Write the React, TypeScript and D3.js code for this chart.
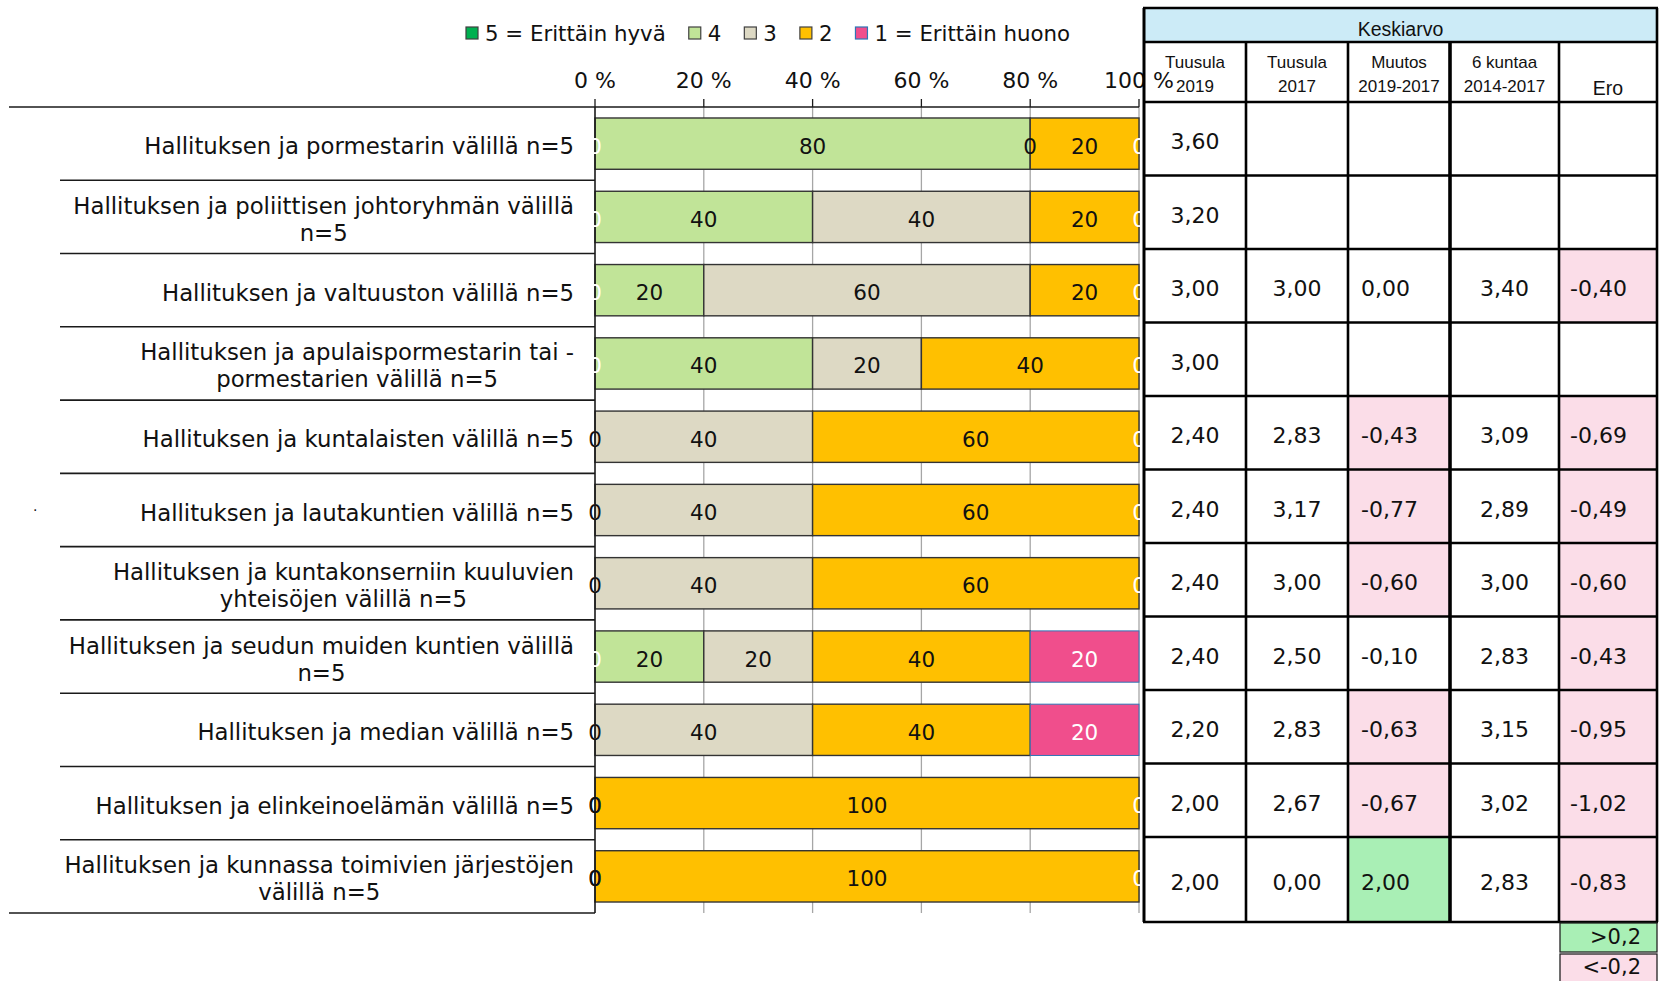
import React, { useEffect, useRef } from 'react';
import * as d3 from 'd3';

// ---------- DATA ----------
const categoryLines: string[][] = [
  ['Hallituksen ja pormestarin välillä n=5'],
  ['Hallituksen ja poliittisen johtoryhmän välillä', 'n=5'],
  ['Hallituksen ja valtuuston välillä n=5'],
  ['Hallituksen ja apulaispormestarin tai -', 'pormestarien välillä n=5'],
  ['Hallituksen ja kuntalaisten välillä n=5'],
  ['Hallituksen ja lautakuntien välillä n=5'],
  ['Hallituksen ja kuntakonserniin kuuluvien', 'yhteisöjen välillä n=5'],
  ['Hallituksen ja seudun muiden kuntien välillä', 'n=5'],
  ['Hallituksen ja median välillä n=5'],
  ['Hallituksen ja elinkeinoelämän välillä n=5'],
  ['Hallituksen ja kunnassa toimivien järjestöjen', 'välillä n=5'],
];
const seriesNames = ['5 = Erittäin hyvä', '4', '3', '2', '1 = Erittäin huono'];
const s5 = [0, 0, 0, 0, 0, 0, 0, 0, 0, 0, 0];
const s4 = [80, 40, 20, 40, 0, 0, 0, 20, 0, 0, 0];
const s3 = [0, 40, 60, 20, 40, 40, 40, 20, 40, 0, 0];
const s2 = [20, 20, 20, 40, 60, 60, 60, 40, 40, 100, 100];
const s1 = [0, 0, 0, 0, 0, 0, 0, 20, 20, 0, 0];
const xTicks = [0, 20, 40, 60, 80, 100];

const tableTitle = 'Keskiarvo';
const tableHeaders: string[][] = [
  ['Tuusula', '2019'],
  ['Tuusula', '2017'],
  ['Muutos', '2019-2017'],
  ['6 kuntaa', '2014-2017'],
  ['Ero'],
];
const tuusula2019 = [3.6, 3.2, 3.0, 3.0, 2.4, 2.4, 2.4, 2.4, 2.2, 2.0, 2.0];
const tuusula2017 = [null, null, 3.0, null, 2.83, 3.17, 3.0, 2.5, 2.83, 2.67, 0.0];
const muutos = [null, null, 0.0, null, -0.43, -0.77, -0.6, -0.1, -0.63, -0.67, 2.0];
const kuntaa6 = [null, null, 3.4, null, 3.09, 2.89, 3.0, 2.83, 3.15, 3.02, 2.83];
const ero = [null, null, -0.4, null, -0.69, -0.49, -0.6, -0.43, -0.95, -1.02, -0.83];
const legendHigh = '>0,2';
const legendLow = '<-0,2';

// ---------- STYLE ----------
const colors = ['#00B050', '#C1E498', '#DDD9C4', '#FFC000', '#F04E8C'];
const labelColors = ['#ffffff', '#111111', '#111111', '#111111', '#ffffff'];
const FONT = '"DejaVu Sans", sans-serif';
const HFONT = '"Liberation Sans", Arial, sans-serif';
const PINK = '#FBDDE8';
const GREEN = '#A9EFB5';
const BLUE = '#CCEBF7';
const DY = 2.5;

export default function App() {
  const ref = useRef<SVGSVGElement | null>(null);

  useEffect(() => {
    const svg = d3.select(ref.current);
    svg.selectAll('*').remove();

    const n = categoryLines.length;
    const x = d3.scaleLinear().domain([0, 100]).range([595, 1139]);
    const y = d3
      .scaleBand<number>()
      .domain(d3.range(n))
      .range([107, 913])
      .paddingInner(0.3)
      .paddingOuter(0.15);
    const step = y.step();

    const rows = d3.range(n).map((i) => ({ s5: s5[i], s4: s4[i], s3: s3[i], s2: s2[i], s1: s1[i] }));
    const keys = ['s5', 's4', 's3', 's2', 's1'];
    const stacked = d3.stack<any>().keys(keys)(rows);

    const g = svg.append('g');

    // gridlines
    g.selectAll('line.grid')
      .data(xTicks.slice(1))
      .join('line')
      .attr('x1', (d) => x(d))
      .attr('x2', (d) => x(d))
      .attr('y1', 107)
      .attr('y2', 913)
      .attr('stroke', '#a6a6a6')
      .attr('stroke-width', 1.3);

    // category separators
    const seps = d3.range(n + 1).map((i) => 107 + i * step);
    g.selectAll('line.sep')
      .data(seps)
      .join('line')
      .attr('x1', (d, i) => (i === 0 || i === n ? 9 : 60))
      .attr('x2', 595)
      .attr('y1', (d) => d)
      .attr('y2', (d) => d)
      .attr('stroke', '#1a1a1a')
      .attr('stroke-width', 1.6);

    // axis top line and ticks
    g.append('line')
      .attr('x1', 595)
      .attr('x2', x(100))
      .attr('y1', 107)
      .attr('y2', 107)
      .attr('stroke', '#1a1a1a')
      .attr('stroke-width', 1.6);
    g.selectAll('line.tick')
      .data(xTicks)
      .join('line')
      .attr('x1', (d) => x(d))
      .attr('x2', (d) => x(d))
      .attr('y1', 99)
      .attr('y2', 107)
      .attr('stroke', '#1a1a1a')
      .attr('stroke-width', 1.3);
    g.selectAll('text.tick')
      .data(xTicks)
      .join('text')
      .attr('x', (d) => x(d))
      .attr('y', 80)
      .attr('text-anchor', 'middle')
      .attr('dominant-baseline', 'central')
      .attr('font-family', FONT)
      .attr('font-size', 22)
      .attr('fill', '#111')
      .text((d) => `${d} %`);

    // bars
    stacked.forEach((layer, si) => {
      g.append('g')
        .selectAll('rect')
        .data(layer)
        .join('rect')
        .attr('x', (d: any) => x(d[0]))
        .attr('width', (d: any) => x(d[1]) - x(d[0]))
        .attr('y', (d: any, i: number) => y(i) as number)
        .attr('height', y.bandwidth())
        .attr('fill', colors[si])
        .attr('stroke', si === 4 ? '#2E75B6' : '#333333')
        .attr('stroke-width', si === 4 ? 1 : 1.4)
        .attr('display', (d: any) => (d[1] - d[0] > 0 ? null : 'none'));
    });

    // left axis line
    g.append('line')
      .attr('x1', 595)
      .attr('x2', 595)
      .attr('y1', 107)
      .attr('y2', 913)
      .attr('stroke', '#1a1a1a')
      .attr('stroke-width', 1.6);

    // bar labels
    stacked.forEach((layer, si) => {
      g.append('g')
        .selectAll('text')
        .data(layer)
        .join('text')
        .attr('x', (d: any) => x((d[0] + d[1]) / 2))
        .attr('y', (d: any, i: number) => (y(i) as number) + y.bandwidth() / 2 + DY)
        .attr('text-anchor', 'middle')
        .attr('dominant-baseline', 'central')
        .attr('font-family', FONT)
        .attr('font-size', 21.5)
        .attr('fill', labelColors[si])
        .text((d: any) => String(d[1] - d[0]));
    });

    // category labels
    const LABEL_RIGHT = 574;
    const LINE_H = 27;
    categoryLines.forEach((lines, i) => {
      const cy = (y(i) as number) + y.bandwidth() / 2 + DY;
      const tg = g.append('g');
      const texts = lines.map((ln, li) =>
        tg
          .append('text')
          .attr('y', cy + (li - (lines.length - 1) / 2) * LINE_H)
          .attr('text-anchor', 'middle')
          .attr('dominant-baseline', 'central')
          .attr('font-family', FONT)
          .attr('font-size', 22.8)
          .attr('fill', '#111')
          .text(ln)
      );
      const maxW = d3.max(texts, (t) => (t.node() as SVGTextElement).getComputedTextLength()) || 0;
      texts.forEach((t) => t.attr('x', LABEL_RIGHT - maxW / 2));
    });

    // stray dot
    g.append('text')
      .attr('x', 33)
      .attr('y', 511)
      .attr('font-family', FONT)
      .attr('font-size', 14)
      .attr('fill', '#111')
      .text('.');

    // legend
    let lx = 466;
    const ly = 33;
    seriesNames.forEach((name, si) => {
      g.append('rect')
        .attr('x', lx)
        .attr('y', ly - 6)
        .attr('width', 12)
        .attr('height', 12)
        .attr('fill', colors[si])
        .attr('stroke', si === 4 ? '#2E75B6' : '#404040')
        .attr('stroke-width', 1.2);
      const t = g
        .append('text')
        .attr('x', lx + 19)
        .attr('y', ly)
        .attr('dominant-baseline', 'central')
        .attr('font-family', FONT)
        .attr('font-size', 21.3)
        .attr('fill', '#111')
        .text(name);
      const w = (t.node() as SVGTextElement).getComputedTextLength();
      lx = lx + 19 + w + 23;
    });

    // ---------- TABLE ----------
    const colEdges = [1144, 1246, 1348, 1450, 1559, 1657];
    const rowEdges = d3.range(n).map((i) => 102 + i * 73.5).concat([922]);
    const fmt = (v: number) => d3.format('.2f')(v).replace('.', ',').replace('−', '-');
    const columns = [tuusula2019, tuusula2017, muutos, kuntaa6, ero];
    const colAlign = ['middle', 'middle', 'start', 'middle', 'start'];
    const colStartX = [0, 0, 1361, 0, 1570];
    const highlight = [false, false, true, false, true];

    const tg = svg.append('g');
    // title
    tg.append('rect')
      .attr('x', colEdges[0])
      .attr('y', 8)
      .attr('width', colEdges[5] - colEdges[0])
      .attr('height', 34)
      .attr('fill', BLUE);
    tg.append('text')
      .attr('x', (colEdges[0] + colEdges[5]) / 2)
      .attr('y', 29)
      .attr('text-anchor', 'middle')
      .attr('dominant-baseline', 'central')
      .attr('font-family', HFONT)
      .attr('font-size', 19.5)
      .attr('fill', '#111')
      .text(tableTitle);

    // cell fills
    columns.forEach((col, ci) => {
      col.forEach((v, ri) => {
        if (v === null || !highlight[ci]) return;
        let fill: string | null = null;
        if ((v as number) > 0.2) fill = GREEN;
        else if ((v as number) < -0.2) fill = PINK;
        if (!fill) return;
        tg.append('rect')
          .attr('x', colEdges[ci])
          .attr('y', rowEdges[ri])
          .attr('width', colEdges[ci + 1] - colEdges[ci])
          .attr('height', rowEdges[ri + 1] - rowEdges[ri])
          .attr('fill', fill);
      });
    });

    // headers
    tableHeaders.forEach((lines, ci) => {
      const cx = (colEdges[ci] + colEdges[ci + 1]) / 2;
      lines.forEach((ln, li) => {
        tg.append('text')
          .attr('x', cx)
          .attr('y', lines.length === 1 ? 88 : 62 + li * 24)
          .attr('text-anchor', 'middle')
          .attr('dominant-baseline', 'central')
          .attr('font-family', HFONT)
          .attr('font-size', lines.length === 1 ? 19.5 : 17)
          .attr('fill', '#111')
          .text(ln);
      });
    });

    // values
    columns.forEach((col, ci) => {
      col.forEach((v, ri) => {
        if (v === null) return;
        const cy = (rowEdges[ri] + rowEdges[ri + 1]) / 2 + 3;
        const cx = colAlign[ci] === 'middle' ? (colEdges[ci] + colEdges[ci + 1]) / 2 : colStartX[ci];
        tg.append('text')
          .attr('x', cx)
          .attr('y', cy)
          .attr('text-anchor', colAlign[ci])
          .attr('dominant-baseline', 'central')
          .attr('font-family', FONT)
          .attr('font-size', 22)
          .attr('fill', '#111')
          .text(fmt(v as number));
      });
    });

    // grid lines of table
    tg.selectAll('line.h')
      .data([8, 42, ...rowEdges])
      .join('line')
      .attr('x1', colEdges[0] - 1)
      .attr('x2', colEdges[5] + 1)
      .attr('y1', (d) => d)
      .attr('y2', (d) => d)
      .attr('stroke', '#000')
      .attr('stroke-width', 2.6);
    tg.selectAll('line.v')
      .data(colEdges)
      .join('line')
      .attr('x1', (d) => d)
      .attr('x2', (d) => d)
      .attr('y1', (d, i) => (i === 0 || i === 5 ? 8 : 42))
      .attr('y2', 922)
      .attr('stroke', '#000')
      .attr('stroke-width', (d, i) => (i === 3 ? 3.6 : i === 0 ? 3 : 2.6));

    // legend boxes below table
    const lbx = 1560;
    const lbw = 97;
    tg.append('rect')
      .attr('x', lbx)
      .attr('y', 923)
      .attr('width', lbw)
      .attr('height', 29)
      .attr('fill', GREEN)
      .attr('stroke', '#222')
      .attr('stroke-width', 1.3);
    tg.append('rect')
      .attr('x', lbx)
      .attr('y', 954)
      .attr('width', lbw)
      .attr('height', 32)
      .attr('fill', PINK)
      .attr('stroke', '#222')
      .attr('stroke-width', 1.3);
    tg.append('text')
      .attr('x', 1641)
      .attr('y', 937)
      .attr('text-anchor', 'end')
      .attr('dominant-baseline', 'central')
      .attr('font-family', FONT)
      .attr('font-size', 21)
      .attr('fill', '#111')
      .text(legendHigh);
    tg.append('text')
      .attr('x', 1641)
      .attr('y', 967)
      .attr('text-anchor', 'end')
      .attr('dominant-baseline', 'central')
      .attr('font-family', FONT)
      .attr('font-size', 21)
      .attr('fill', '#111')
      .text(legendLow);
  }, []);

  return (
    <svg
      ref={ref}
      width={1660}
      height={981}
      style={{ position: 'absolute', left: 0, top: 0, background: '#fff' }}
    />
  );
}
